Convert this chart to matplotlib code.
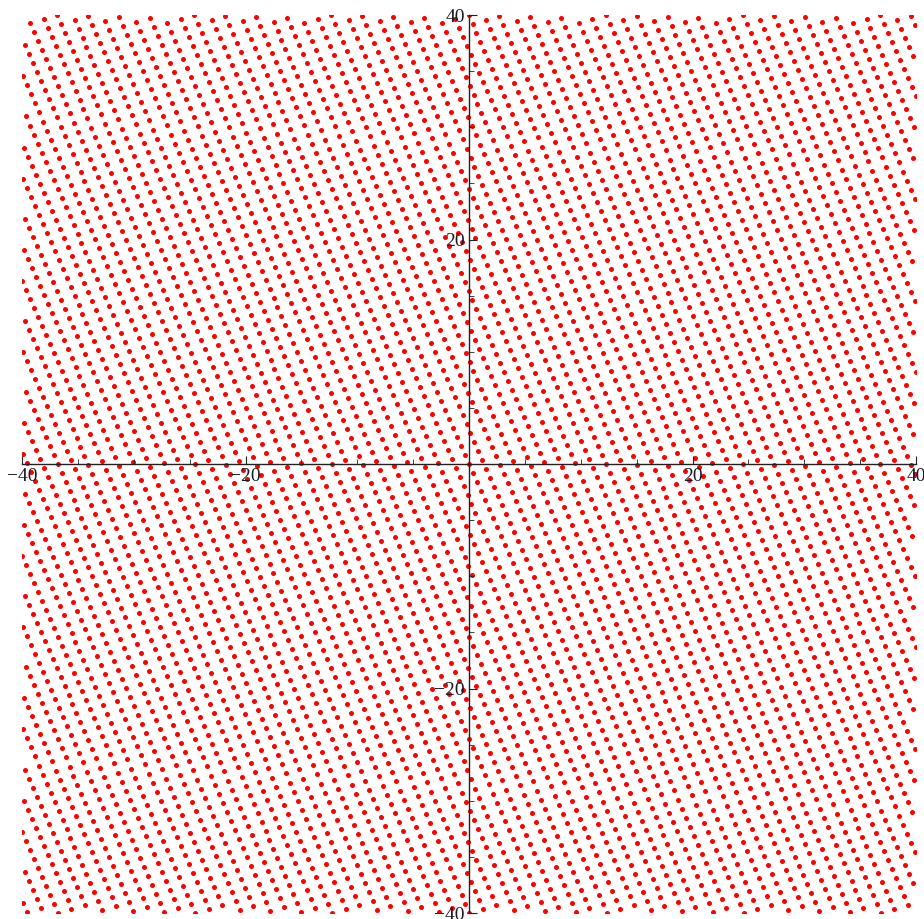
import numpy as np
import matplotlib
matplotlib.use("Agg")
import matplotlib.pyplot as plt
from matplotlib.ticker import FixedLocator

# lattice generators (plot units)
vec_a = [1.205, 0.357]
vec_b = [0.357, -0.803]
plot_range = [-40, 40]
major_ticks = [-40, -20, 20, 40]
minor_ticks = [t for t in range(-40, 41, 5) if t % 20 != 0]
tick_text = ["\u221240", "\u221220", "20", "40"]

# build the lattice points inside the window
n = 120
i, j = np.meshgrid(np.arange(-n, n + 1), np.arange(-n, n + 1))
px = i * vec_a[0] + j * vec_b[0]
py = i * vec_a[1] + j * vec_b[1]
lo, hi = plot_range
keep = (px >= lo) & (px <= hi) & (py >= lo) & (py <= hi)
px, py = px[keep], py[keep]

fig = plt.figure(figsize=(9.24, 9.19), dpi=100)
ax = fig.add_axes([22 / 924, 6 / 919, 894 / 924, 898 / 919])
ax.scatter(px, py, s=13, color="#ff0000", linewidths=0, zorder=1)

ax.set_xlim(lo, hi)
ax.set_ylim(lo, hi)
ax.spines["left"].set_position("zero")
ax.spines["bottom"].set_position("zero")
ax.spines["right"].set_visible(False)
ax.spines["top"].set_visible(False)
for s in ("left", "bottom"):
    ax.spines[s].set_linewidth(1.0)
    ax.spines[s].set_color("#222222")
    ax.spines[s].set_zorder(3)

ax.xaxis.set_major_locator(FixedLocator(major_ticks))
ax.yaxis.set_major_locator(FixedLocator(major_ticks))
ax.xaxis.set_minor_locator(FixedLocator(minor_ticks))
ax.yaxis.set_minor_locator(FixedLocator(minor_ticks))
ax.tick_params(which="major", direction="in", length=6, width=0.8, color="#222222")
ax.tick_params(which="minor", direction="in", length=3.5, width=0.6, color="#222222")
ax.tick_params(axis="x", pad=3)
ax.tick_params(axis="y", pad=3)
ax.set_xticklabels(tick_text)
ax.set_yticklabels(tick_text)
for lab in ax.get_xticklabels() + ax.get_yticklabels():
    lab.set_fontfamily("Liberation Serif")
    lab.set_fontsize(14)
    lab.set_color("#1a1a2a")
    lab.set_clip_on(False)

fig.savefig("out.png", dpi=100)
